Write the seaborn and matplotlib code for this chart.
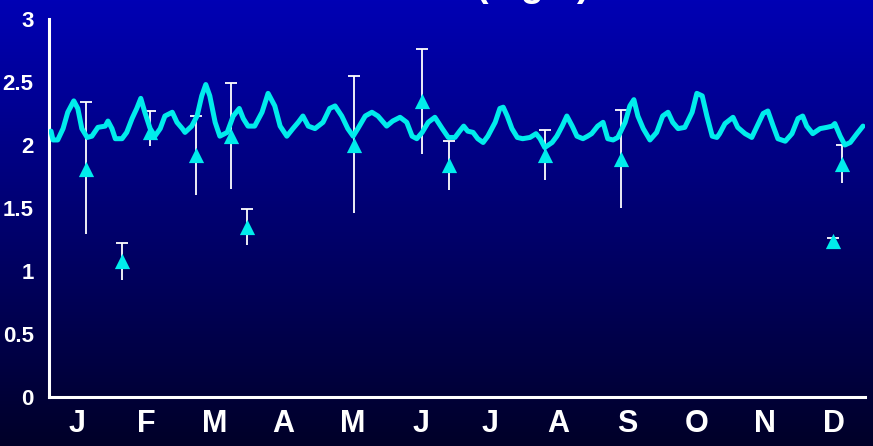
import numpy as np
import matplotlib
matplotlib.use("Agg")
import matplotlib.pyplot as plt
from matplotlib.colors import LinearSegmentedColormap
import seaborn as sns

# Month labels along the x axis
months = ["J", "F", "M", "A", "M", "J", "J", "A", "S", "O", "N", "D"]
y_ticks = [0, 0.5, 1, 1.5, 2, 2.5, 3]
y_tick_labels = ["0", "0.5", "1", "1.5", "2", "2.5", "3"]

# Continuous record: time in months since 1 January, concentration in mg/L
line_month = [
    0.03, 0.06, 0.13, 0.21, 0.28, 0.37, 0.43, 0.49, 0.57, 0.64, 0.73, 0.84, 0.88,
    0.94, 0.99, 1.09, 1.16, 1.24, 1.31, 1.37, 1.43, 1.51, 1.58, 1.66, 1.73, 1.84,
    1.91, 1.99, 2.03, 2.13, 2.21, 2.28, 2.34, 2.40, 2.48, 2.55, 2.66, 2.75, 2.84,
    2.90, 2.97, 3.07, 3.18, 3.27, 3.37, 3.45, 3.55, 3.64, 3.72, 3.79, 3.87, 3.97,
    4.09, 4.19, 4.27, 4.37, 4.46, 4.54, 4.61, 4.72, 4.82, 4.91, 5.04, 5.13, 5.24,
    5.34, 5.42, 5.49, 5.57, 5.66, 5.76, 5.87, 5.96, 6.06, 6.13, 6.19, 6.25, 6.33,
    6.40, 6.48, 6.55, 6.66, 6.73, 6.78, 6.84, 6.91, 6.99, 7.07, 7.18, 7.27, 7.33,
    7.40, 7.51, 7.58, 7.66, 7.73, 7.81, 7.88, 7.97, 8.04, 8.10, 8.19, 8.27, 8.34,
    8.42, 8.49, 8.60, 8.67, 8.73, 8.79, 8.87, 8.97, 9.07, 9.16, 9.24, 9.31, 9.39,
    9.49, 9.60, 9.67, 9.75, 9.82, 9.90, 9.97, 10.01, 10.09, 10.21, 10.28, 10.39,
    10.49, 10.57, 10.66, 10.73, 10.81, 10.88, 10.99, 11.09, 11.18, 11.25, 11.31,
    11.40, 11.51, 11.61, 11.69, 11.73, 11.81, 11.88, 11.96, 12.06, 12.15,
]
line_value = [
    2.11, 2.04, 2.04, 2.13, 2.26, 2.35, 2.29, 2.13, 2.06, 2.07, 2.14, 2.15, 2.19,
    2.13, 2.05, 2.05, 2.10, 2.21, 2.29, 2.37, 2.26, 2.13, 2.07, 2.13, 2.23, 2.26,
    2.18, 2.13, 2.10, 2.15, 2.23, 2.39, 2.48, 2.39, 2.18, 2.07, 2.10, 2.23, 2.29,
    2.21, 2.15, 2.15, 2.26, 2.41, 2.31, 2.15, 2.07, 2.13, 2.18, 2.23, 2.15, 2.13,
    2.18, 2.29, 2.31, 2.23, 2.13, 2.07, 2.13, 2.23, 2.26, 2.23, 2.15, 2.19, 2.22,
    2.18, 2.07, 2.05, 2.10, 2.18, 2.22, 2.13, 2.06, 2.06, 2.11, 2.15, 2.11, 2.10,
    2.05, 2.02, 2.07, 2.18, 2.29, 2.30, 2.23, 2.13, 2.06, 2.05, 2.06, 2.09, 2.05,
    1.98, 2.02, 2.07, 2.15, 2.23, 2.15, 2.07, 2.05, 2.07, 2.09, 2.15, 2.18, 2.05,
    2.04, 2.06, 2.18, 2.31, 2.36, 2.23, 2.13, 2.04, 2.10, 2.23, 2.26, 2.18, 2.13,
    2.14, 2.26, 2.41, 2.39, 2.23, 2.07, 2.06, 2.09, 2.17, 2.22, 2.14, 2.09,
    2.06, 2.15, 2.25, 2.27, 2.15, 2.05, 2.03, 2.09, 2.21, 2.23, 2.15,
    2.09, 2.13, 2.14, 2.15, 2.17, 2.07, 2.00, 2.02, 2.09, 2.15,
]

# Grab samples: mean with low/high range
samp_month = [0.55, 1.09, 1.51, 2.19, 2.72, 2.96, 4.55, 5.57, 5.97, 7.40, 8.54, 11.70, 11.84]
samp_mean = [1.81, 1.08, 2.10, 1.92, 2.07, 1.35, 2.00, 2.35, 1.84, 1.92, 1.89, 1.24, 1.85]
samp_low = [1.29, 0.93, 1.99, 1.60, 1.65, 1.21, 1.46, 1.93, 1.64, 1.72, 1.50, 1.24, 1.70]
samp_high = [2.34, 1.22, 2.27, 2.23, 2.49, 1.49, 2.55, 2.76, 2.03, 2.12, 2.28, 1.26, 2.00]

CYAN = "#00ECEC"

sns.set_style("white")
plt.rcParams["font.family"] = ["Liberation Sans", "DejaVu Sans"]
plt.rcParams["font.weight"] = "bold"

W, H = 873, 446
fig = plt.figure(figsize=(W / 100, H / 100), dpi=100)

# Vertical blue gradient behind everything
bg = fig.add_axes([0, 0, 1, 1], zorder=-10)
grad = np.linspace(1, 0, 256).reshape(-1, 1)
cmap = LinearSegmentedColormap.from_list("navy", ["#000028", "#0000B4"])
bg.imshow(grad, aspect="auto", cmap=cmap, extent=[0, 1, 0, 1])
bg.axis("off")

ax = fig.add_axes([49 / W, 49 / H, (865 - 49) / W, (397 - 19) / H])
ax.patch.set_alpha(0)

# Range bars with a cap at the top only
ax.vlines(samp_month, samp_low, samp_high, colors="white", lw=1.3, zorder=2)
ax.scatter(samp_month, samp_high, marker="_", s=80, color="white", linewidths=1.3, zorder=2)

sns.lineplot(x=line_month, y=line_value, color=CYAN, lw=3.6, ax=ax, zorder=3,
             sort=False, solid_joinstyle="round", solid_capstyle="round")
sns.scatterplot(x=samp_month, y=samp_mean, marker="^", s=120, color=CYAN,
                linewidth=0, ax=ax, zorder=4)

ax.set_xlim(0, 12.18)
ax.set_ylim(0, 3)
ax.set_yticks(y_ticks)
ax.set_yticklabels(y_tick_labels)
ax.set_xticks(range(1, 13))
ax.set_xticklabels([])
ax.set_xticks(np.linspace(0.418, 11.716, 12), minor=True)
ax.set_xticklabels(months, minor=True)

ax.tick_params(axis="x", which="major", length=4, width=3, color="white", direction="out")
ax.tick_params(axis="x", which="minor", length=0, pad=9, labelsize=22, labelcolor="white")
ax.tick_params(axis="y", length=4, width=3, color="white", direction="out", pad=7,
               labelsize=16, labelcolor="white")
for lab in ax.get_xticklabels(minor=True) + ax.get_yticklabels():
    lab.set_fontweight("bold")

for side in ("top", "right"):
    ax.spines[side].set_visible(False)
for side in ("left", "bottom"):
    ax.spines[side].set_color("white")
    ax.spines[side].set_linewidth(2.2)

ax.set_xlabel("")
ax.set_ylabel("")

# Units heading, running off the top edge
fig.text(590 / W, 1 + 4 / H, "(mg/L)", ha="right", va="baseline", fontsize=27,
         fontweight="bold", color="white")

fig.savefig("out.png", dpi=100)
